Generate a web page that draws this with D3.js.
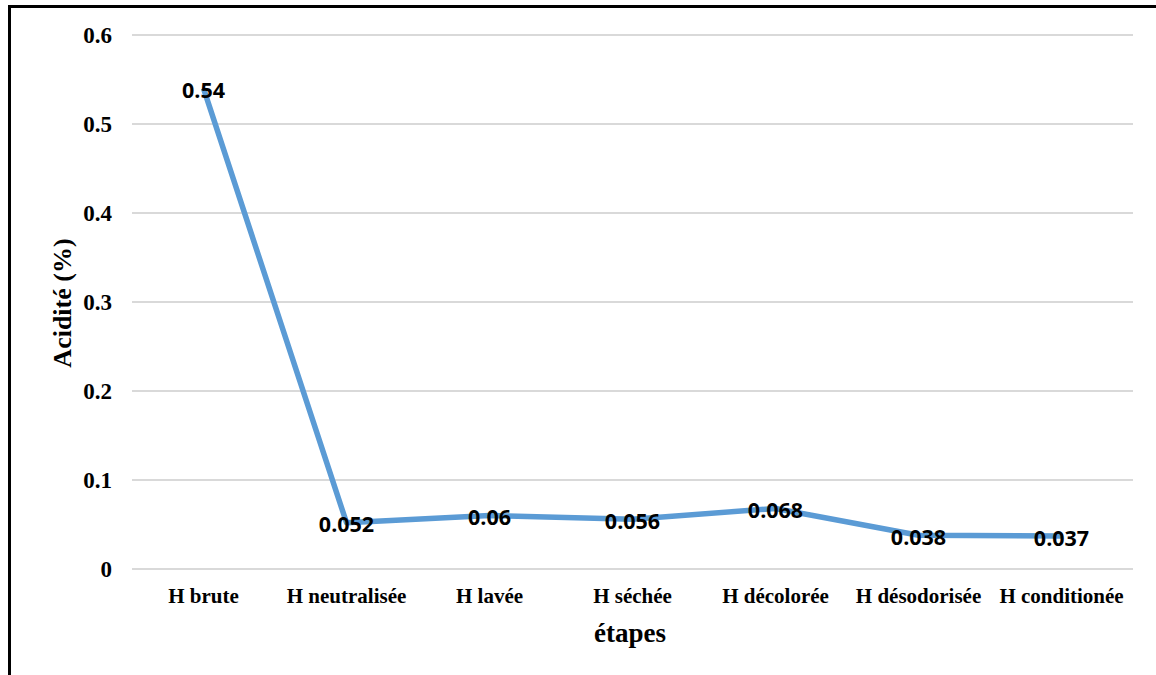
<!DOCTYPE html>
<html>
<head>
<meta charset="utf-8">
<script src="https://cdn.jsdelivr.net/npm/d3@7"></script>
<style>
  body { margin: 0; background: #fff; }
</style>
</head>
<body>
<div id="chart"></div>
<script>
// donnees du graphique
var etapes = ["H brute", "H neutralisée", "H lavée", "H séchée", "H décolorée", "H désodorisée", "H conditionée"];
var acidite = [0.54, 0.052, 0.06, 0.056, 0.068, 0.038, 0.037];
var yTicks = [0, 0.1, 0.2, 0.3, 0.4, 0.5, 0.6];

var width = 1156;
var height = 675;
var margin = {top: 35, right: 23, bottom: 106, left: 132};
var serif = "'Liberation Serif', 'Times New Roman', serif";

var svg = d3.select("#chart").append("svg")
    .attr("width", width)
    .attr("height", height);

// cadre (haut + gauche)
svg.append("path")
    .attr("d", "M9.5,675 V6.5 H1156")
    .attr("fill", "none")
    .attr("stroke", "#000")
    .attr("stroke-width", 3);

var x = d3.scaleBand()
    .domain(etapes)
    .range([margin.left, width - margin.right]);

var y = d3.scaleLinear()
    .domain([0, 0.6])
    .range([height - margin.bottom, margin.top]);

// lignes de grille
svg.append("g")
    .selectAll("line")
    .data(yTicks)
    .enter()
    .append("line")
    .attr("x1", margin.left)
    .attr("x2", width - margin.right)
    .attr("y1", function(d){ return y(d); })
    .attr("y2", function(d){ return y(d); })
    .attr("stroke", "#d9d9d9")
    .attr("stroke-width", 2);

// axe y
var yAxis = svg.append("g")
    .attr("transform", "translate(" + (margin.left - 20) + ",0)")
    .call(d3.axisLeft(y).tickValues(yTicks).tickSize(0).tickFormat(function(d){ return d === 0 ? "0" : d3.format(".1f")(d); }));
yAxis.select(".domain").remove();
yAxis.selectAll("text")
    .attr("font-family", serif)
    .attr("font-weight", "bold")
    .attr("font-size", "23px")
    .attr("fill", "#000")
    .attr("x", 0)
    .attr("dy", "0.33em");

// axe x
var xAxis = svg.append("g")
    .attr("transform", "translate(0," + (height - margin.bottom) + ")")
    .call(d3.axisBottom(x).tickSize(0));
xAxis.select(".domain").remove();
xAxis.selectAll("text")
    .attr("font-family", serif)
    .attr("font-weight", "bold")
    .attr("font-size", "21px")
    .attr("fill", "#000")
    .attr("y", 27)
    .attr("dy", "0.33em");

// titres des axes
svg.append("text")
    .text("étapes")
    .attr("x", 630)
    .attr("y", 633)
    .attr("dy", "0.33em")
    .attr("text-anchor", "middle")
    .attr("font-family", serif)
    .attr("font-weight", "bold")
    .attr("font-size", "27px");

svg.append("text")
    .text("Acidité (%)")
    .attr("transform", "translate(62,303) rotate(-90)")
    .attr("dy", "0.33em")
    .attr("text-anchor", "middle")
    .attr("font-family", serif)
    .attr("font-weight", "bold")
    .attr("font-size", "26px");

// la courbe
var line = d3.line()
    .x(function(d, i){ return x(etapes[i]) + x.bandwidth() / 2; })
    .y(function(d){ return y(d); });

svg.append("path")
    .datum(acidite)
    .attr("d", line)
    .attr("fill", "none")
    .attr("stroke", "#5b9bd5")
    .attr("stroke-width", 5.5)
    .attr("stroke-linejoin", "round");

// etiquettes de valeurs
svg.append("g")
    .selectAll("text")
    .data(acidite)
    .enter()
    .append("text")
    .text(function(d){ return d; })
    .attr("x", function(d, i){ return x(etapes[i]) + x.bandwidth() / 2; })
    .attr("y", function(d){ return y(d) + 2; })
    .attr("dy", "0.35em")
    .attr("text-anchor", "middle")
    .attr("font-family", "'Open Sans', sans-serif")
    .attr("font-weight", "bold")
    .attr("font-size", "21.5px")
    .attr("fill", "#000");
</script>
</body>
</html>
